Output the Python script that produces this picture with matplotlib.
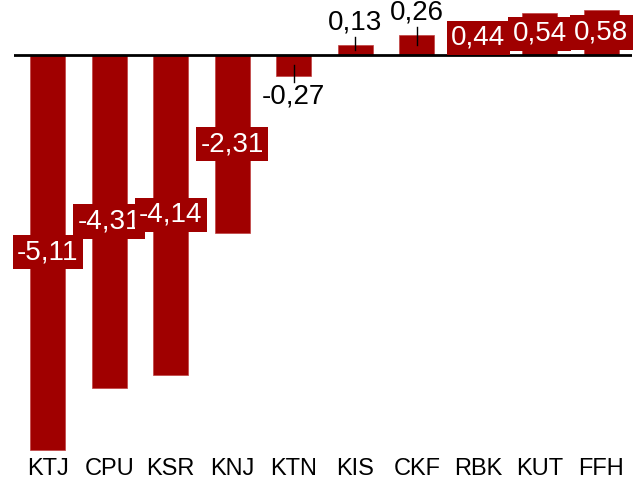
import matplotlib.pyplot as plt
from matplotlib import font_manager

names = {f.name for f in font_manager.fontManager.ttflist}
if "Liberation Sans Narrow" in names:
    plt.rcParams["font.family"] = ["Liberation Sans Narrow", "DejaVu Sans"]
else:
    plt.rcParams["font.family"] = ["Liberation Sans", "DejaVu Sans"]

codes = ["KTJ", "CPU", "KSR", "KNJ", "KTN", "KIS", "CKF", "RBK", "KUT", "FFH"]
values = [-5.11, -4.31, -4.14, -2.31, -0.27, 0.13, 0.26, 0.44, 0.54, 0.58]
inside = [True, True, True, True, False, False, False, True, True, True]

red = "#a00000"

fig = plt.figure(figsize=(6.43, 4.93), dpi=100)
ax = fig.add_axes([14 / 643, 41 / 493, 618 / 643, 452 / 493])

x = range(len(codes))
ax.bar(x, values, width=0.57, color=red, edgecolor="#c04040", linewidth=0.5)
ax.axhline(0, color="black", lw=2)

for i, v in enumerate(values):
    lab = "{:.2f}".format(v).replace(".", ",")
    if inside[i]:
        ax.text(i, v / 2, lab, ha="center", va="center", color="white", fontsize=20,
                bbox=dict(boxstyle="square,pad=0.15", fc=red, ec="none"))
    else:
        if v > 0:
            ax.plot([i, i], [v / 2, v + 0.1], color="black", lw=1)
            ax.text(i, v + 0.12, lab, ha="center", va="bottom", fontsize=20)
        else:
            ax.plot([i, i], [v / 2, v - 0.08], color="black", lw=1)
            ax.text(i, v - 0.1, lab, ha="center", va="top", fontsize=20)

ax.set_xlim(-0.55, 9.5)
ax.set_ylim(-5.14, 0.71)
ax.set_xticks(list(x))
ax.set_xticklabels(codes, fontsize=17)
ax.tick_params(axis="x", length=0, pad=4)
ax.set_yticks([])
for s in ax.spines.values():
    s.set_visible(False)

fig.savefig("out.png", dpi=100)
